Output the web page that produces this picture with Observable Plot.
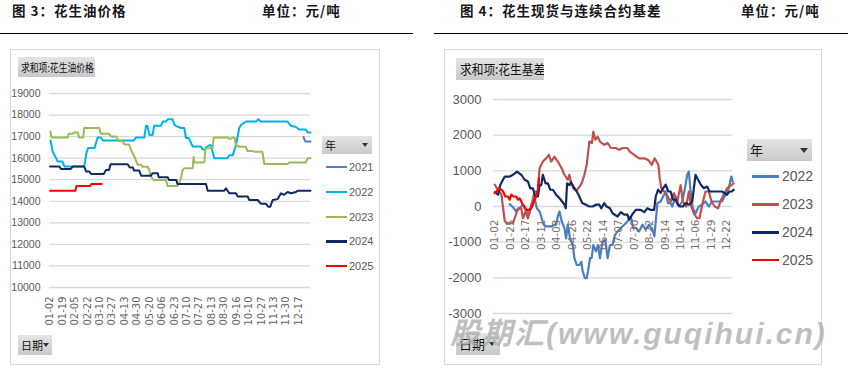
<!DOCTYPE html>
<html><head><meta charset="utf-8">
<script src="https://cdn.jsdelivr.net/npm/d3@7"></script>
<script src="https://cdn.jsdelivr.net/npm/@observablehq/plot@0.6"></script>
<style>
body{margin:0;background:#fff;}
#root{position:relative;width:849px;height:369px;overflow:hidden;background:#fff;font-family:"Noto Sans CJK SC",sans-serif;}
.abs{position:absolute;}
.title{font-weight:bold;font-size:13.5px;letter-spacing:1px;color:#161622;line-height:16px;white-space:nowrap;}
.rule{height:1.3px;background:#000;}
.panel{border:1px solid #d9d9d9;box-sizing:border-box;}
.btn{background:linear-gradient(#e4e4e4,#c9c9c9);box-sizing:border-box;color:#111;white-space:nowrap;overflow:hidden;}
.btn span{display:inline-block;transform-origin:left center;}
.tri{width:0;height:0;border-left:3.5px solid transparent;border-right:3.5px solid transparent;border-top:4.5px solid #333;}
.leg{font-family:"Liberation Sans Narrow","Arial Narrow",sans-serif;color:#595959;white-space:nowrap;}
svg.plot{position:absolute;left:0;top:0;}
</style></head>
<body><div id="root"></div>
<script>
// ---------- data ----------
const leftYTicks = [10000,11000,12000,13000,14000,15000,16000,17000,18000,19000];
const leftXTickIdx = [0,12,24,36,48,60,72,84,96,108,120,132,144,156,168,180,192,204,216,228,240];
const leftXLabels = ["01-02","01-19","02-05","02-22","03-10","03-27","04-13","04-30","05-20","06-06","06-23","07-10","07-27","08-13","08-30","09-16","10-10","10-27","11-13","11-30","12-17"];
const oilYears = ["2021","2022","2023","2024","2025"];
const oilColors = ["#4f81bd","#00b0f0","#9bbb59","#0f2a63","#ff0000"];

const oil2021 = [[244.8,16980],[246.5,16770],[251.5,16770]];
const oil2022 = [[0.5,16820],[2.6,16310],[5,16080],[7.4,15840],[12,15840],[14,15610],[33,15610],[35,16200],[36.7,16470],[43,16470],[46,16960],[49,16960],[51,16820],[81,16820],[83,16960],[91,16960],[92.7,17500],[94,17500],[96,17080],[99,17080],[100.6,17500],[107,17500],[109,17700],[112,17700],[113.6,17800],[118.4,17800],[120,17550],[121.6,17500],[126.4,17400],[129.6,17400],[131.3,16930],[134,16930],[137.7,16540],[145.7,16540],[147.4,16400],[149,16400],[150.6,16500],[153.8,16600],[155.4,16600],[158.6,16000],[171.5,16000],[173,16140],[176.4,16140],[179.5,16600],[182.7,17400],[184.5,17550],[189.2,17700],[198.8,17700],[201,17800],[203.7,17700],[229.4,17700],[232.6,17500],[237.5,17450],[240.6,17330],[247,17330],[248.7,17190],[251.5,17190]];
const oil2023 = [[0.3,17240],[1.6,16960],[17,16960],[18,17130],[22,17130],[23,17190],[27,17190],[28,16960],[32,16960],[33,17400],[47.6,17400],[49,17130],[57,17130],[59,17000],[64,17000],[66,16800],[70,16800],[71.6,16650],[76.6,16620],[78,16400],[81.4,16080],[84.6,15700],[87.8,15700],[89.5,15600],[94.3,15600],[95.8,15450],[97.5,15150],[100,14990],[112,14990],[113.5,14710],[123,14710],[124.6,14830],[126.4,15080],[128,15450],[129.7,15530],[137.7,15530],[138.7,16050],[139.3,15800],[149,15800],[150,16450],[157,16470],[158,16960],[171.5,16960],[173,16900],[174.7,16900],[176.3,16960],[178,16960],[179.5,16600],[182.7,16530],[189,16530],[190.8,16330],[195.6,16330],[197,16300],[205,16300],[206.9,15730],[229.4,15730],[231,15800],[247,15800],[248.7,16000],[251.5,16000]];
const oil2024 = [[0,15610],[9,15610],[10.6,15500],[20,15500],[22,15610],[33,15610],[35,15380],[38,15380],[39.6,15270],[52,15270],[54,15450],[57,15450],[58.5,15720],[75,15720],[77,15570],[80,15570],[81,15430],[86,15430],[88,15190],[97.5,15190],[99,15300],[104,15300],[105,15110],[113.6,15110],[115,14990],[122,14990],[123,14800],[150.6,14800],[152.2,14490],[168.2,14490],[170,14600],[171.5,14490],[173,14370],[179.5,14370],[181.2,14220],[190.8,14220],[192.4,14060],[200.5,14060],[203.7,13880],[208.5,13880],[210.7,13750],[212.7,13750],[215,14060],[219.8,14100],[223,14370],[226,14300],[229.4,14430],[232.6,14370],[237.5,14430],[239,14490],[251.5,14490]];
const oil2025 = [[0,14490],[24.5,14490],[25.5,14710],[39,14710],[39.8,14800],[50,14800]];

const rightYTicks = [-3000,-2000,-1000,0,1000,2000,3000];
const rightXTickIdx = [0,16,32,48,64,80,96,112,128,144,160,176,192,208,224,240];
const rightXLabels = ["01-02","01-25","02-17","03-11","04-03","04-26","05-22","06-14","07-07","07-30","08-22","09-14","10-14","11-06","11-29","12-22"];
const basisYears = ["2022","2023","2024","2025"];
const basisColors = ["#4a7ebf","#c0504d","#0f2a63","#ff0000"];

const basis2022 = [[15.4,65],[18.9,-20],[22.3,-140],[25.7,-50],[29.1,50],[32.6,-140],[35,-230],[37.7,50],[39.4,140],[41.1,230],[43.5,-50],[46.3,-140],[48,-280],[50.4,-510],[53.1,-560],[58.3,-560],[61.7,-510],[63.4,-510],[65.1,-280],[66.9,-140],[69.2,-420],[72,-610],[73.7,-890],[75.4,-510],[77.8,-890],[80.6,-1080],[82.3,-1450],[84.7,-1640],[87.4,-1640],[89.4,-1550],[90.8,-1820],[93.2,-2010],[95,-2010],[96.3,-1820],[98.4,-1450],[100.1,-1450],[101.8,-1080],[104.6,-1260],[106.6,-1080],[108.7,-1450],[111.4,-980],[114.2,-940],[116.6,-1450],[119,-1080],[121.7,-1080],[124.1,-800],[126.8,-700],[130.3,-600],[133.7,-510],[137.1,-420],[140.6,-280],[143,-600],[145.7,-600],[149.1,-700],[152.6,-510],[156,-650],[159.4,-510],[162.8,-650],[164.9,-840],[166.3,-420],[168,90],[171.4,140],[174.8,330],[176.6,420],[179,95],[181.7,95],[183.4,0],[186.8,280],[190.3,0],[193.7,140],[197.1,600],[198.8,890],[200.5,980],[202.3,420],[204.7,-50],[207.4,-190],[210.8,0],[214.3,50],[217.7,140],[221.1,0],[224.5,140],[231.4,140],[234.8,140],[238.3,330],[241.7,510],[244.4,840],[245.8,700]];
const basis2023 = [[0,610],[3.4,470],[6.9,330],[10.3,-400],[12,-470],[18.9,-470],[20.6,-330],[24,-50],[27.4,-50],[29.1,-330],[31.9,-140],[34.3,-330],[37.7,0],[41.1,420],[44.6,420],[46.3,1075],[49.7,1260],[53.1,1350],[55.9,1450],[58.3,1260],[61.7,1400],[65.1,1260],[68.6,1100],[72,890],[75.4,750],[77.1,890],[78.8,650],[81.3,500],[84.7,450],[87.4,550],[89.8,650],[92.6,890],[95,1170],[97.7,1820],[100.4,1780],[101.8,2100],[103.9,1870],[106.3,1960],[108.7,1820],[113.1,1730],[116.6,1780],[120,1640],[125.1,1640],[128.6,1590],[132,1640],[137.1,1640],[139.5,1540],[144,1450],[149.1,1350],[154.3,1350],[158.7,1300],[162.2,1170],[165.2,1350],[169,1170],[170.4,800],[172.1,510],[176.6,375],[181.7,140],[185.1,375],[188.6,140],[192,600],[194.4,140],[197.8,0],[200.5,420],[203,0],[205.7,-190],[209.1,-330],[211.5,-330],[214.3,50],[217.7,420],[221.1,420],[223.9,140],[227.3,0],[230.7,-50],[233.8,190],[236.5,330],[240,510],[244.4,600],[246.8,650]];
const basis2024 = [[0,400],[3.4,330],[5.8,610],[10.3,840],[15.4,840],[18.9,890],[23,980],[27.4,890],[30.9,750],[34.3,700],[36.7,510],[39.4,510],[41.8,280],[44.6,280],[46.3,600],[48,600],[49.7,890],[52.5,650],[54.9,650],[57.3,470],[60,470],[63.4,330],[66.9,230],[69.6,140],[72,50],[73.4,-50],[74.7,650],[77.1,600],[78.8,680],[81.3,560],[84.7,420],[87.4,280],[90.2,100],[94.3,50],[97.7,0],[101.1,0],[104.6,50],[108,50],[110.1,-50],[113.1,95],[115.5,0],[119,-50],[121.7,-190],[126.8,-280],[130.3,-160],[133.7,-230],[137.1,-230],[138.8,-370],[142.3,-210],[145.7,-95],[150.8,-95],[154.3,-160],[157.7,-50],[161.1,-95],[164.6,-95],[166.3,280],[168.7,470],[171.4,380],[173.8,510],[176.6,610],[179.3,420],[181.7,420],[184.1,190],[186.8,190],[189.2,50],[192,0],[194.4,0],[197.1,95],[200.5,50],[204,140],[207.4,890],[210.1,750],[212.9,610],[216,510],[219.4,560],[221.8,420],[234.8,420],[237.6,370],[240,330],[242.4,420],[245.1,420],[246.8,470]];
const basis2025 = [[0,375],[1.7,420],[4.1,510],[6.9,470],[8.6,420],[11,280],[13.7,280],[15.4,190],[17.1,330],[19.5,280],[22.3,280],[24,190],[25.7,230],[27.4,140],[29.1,50],[30.9,0],[32.6,-95],[36,-95],[37.7,-50],[39.4,50],[41.1,190],[42.9,280],[44.6,470],[45.6,800]];

// ---------- layout ----------
const root = document.getElementById("root");
function el(tag, cls, css, html){const e=document.createElement(tag); if(cls) e.className=cls; Object.assign(e.style, css||{}); if(html!=null) e.innerHTML=html; root.appendChild(e); return e;}

el("div","abs title",{left:"12px",top:"2px"},"图 3：花生油价格");
el("div","abs title",{left:"262px",top:"2px"},"单位：元/吨");
el("div","abs title",{left:"460px",top:"2px"},"图 4：花生现货与连续合约基差");
el("div","abs title",{left:"741px",top:"2px"},"单位：元/吨");
el("div","abs rule",{left:"0px",top:"33px",width:"413px"});
el("div","abs rule",{left:"434px",top:"33px",width:"414px"});
el("div","abs panel",{left:"10px",top:"49px",width:"370px",height:"316px"});
el("div","abs panel",{left:"444px",top:"49px",width:"378px",height:"316px"});

const font = '"Liberation Sans Narrow","Arial Narrow",sans-serif';
const series = (arr, color, w) => Plot.line(arr, {x: d => d[0], y: d => d[1], stroke: color, strokeWidth: w, strokeLinejoin: "round", strokeLinecap: "round"});

const left = Plot.plot({
  width: 849, height: 369,
  marginLeft: 49, marginRight: 539, marginTop: 93, marginBottom: 82,
  x: {domain: [-0.5, 251.5]},
  y: {domain: [10000, 19000]},
  style: {background: "transparent", overflow: "visible"},
  marks: [
    Plot.gridY(leftYTicks, {stroke: "#d9d9d9", strokeOpacity: 1, strokeWidth: 1.3}),
    Plot.axisY(leftYTicks, {tickSize: 0, tickPadding: 9, fontSize: 10.5, fontFamily: font, fill: "#595959", label: null, tickFormat: d => String(d)}),
    Plot.axisX(leftXTickIdx, {tickSize: 0, tickPadding: 9, tickRotate: -90, fontSize: 10, fontFamily: "DejaVu Sans", fill: "#666", label: null, tickFormat: i => leftXLabels[leftXTickIdx.indexOf(i)]}),
    series(oil2021, oilColors[0], 2),
    series(oil2022, oilColors[1], 2),
    series(oil2023, oilColors[2], 2),
    series(oil2024, oilColors[3], 2),
    series(oil2025, oilColors[4], 2)
  ]
});
left.classList.add("plot");
root.appendChild(left);

const rightTicks = rightXTickIdx.map((i, k) => ({i, label: rightXLabels[k]}));
const right = Plot.plot({
  width: 849, height: 369,
  marginLeft: 493, marginRight: 117, marginTop: 99, marginBottom: 56,
  x: {domain: [-1.3, 245.6], axis: null},
  y: {domain: [-3000, 3000]},
  style: {background: "transparent", overflow: "visible"},
  marks: [
    Plot.gridY(rightYTicks, {stroke: "#d9d9d9", strokeOpacity: 1, strokeWidth: 1.3}),
    Plot.axisY(rightYTicks, {tickSize: 0, tickPadding: 12, fontSize: 13, fontFamily: font, fill: "#595959", label: null, tickFormat: d => String(d)}),
    series(basis2022, basisColors[0], 2.2),
    series(basis2023, basisColors[1], 2.2),
    series(basis2024, basisColors[2], 2.2),
    series(basis2025, basisColors[3], 2.2),
    Plot.text(rightTicks, {x: "i", y: 0, text: "label", rotate: -90, textAnchor: "end", dy: 13, fontSize: 10.5, fontFamily: "DejaVu Sans", fill: "#7d7064"})
  ]
});
right.classList.add("plot");
root.appendChild(right);

// buttons
el("div","abs btn",{left:"18px",top:"57px",width:"77px",height:"20px",fontSize:"11px",lineHeight:"20px",paddingLeft:"3px"},'<span style="transform:scaleX(0.8)">求和项:花生油价格</span>');
el("div","abs btn",{left:"456px",top:"58px",width:"88px",height:"22px",fontSize:"13px",lineHeight:"22px",paddingLeft:"4px"},'<span style="transform:scaleX(0.9)">求和项:花生基差</span>');
el("div","abs btn",{left:"322px",top:"136px",width:"50px",height:"18px",fontSize:"11px",lineHeight:"18px",paddingLeft:"3px"},"年");
el("div","abs tri",{left:"362px",top:"143px"});
el("div","abs btn",{left:"747px",top:"139px",width:"65px",height:"22px",fontSize:"13px",lineHeight:"22px",paddingLeft:"3px"},"年");
el("div","abs tri",{left:"800px",top:"148px",borderLeftWidth:"4px",borderRightWidth:"4px",borderTopWidth:"5px"});
el("div","abs btn",{left:"18px",top:"335px",width:"34px",height:"20px",fontSize:"11px",lineHeight:"20px",paddingLeft:"3px"},"日期");
el("div","abs tri",{left:"43px",top:"343px",borderLeftWidth:"3px",borderRightWidth:"3px",borderTopWidth:"4px"});
el("div","abs btn",{left:"456px",top:"333px",width:"44px",height:"22px",fontSize:"13px",lineHeight:"22px",paddingLeft:"3px"},"日期");
el("div","abs tri",{left:"489px",top:"342px"});

// legends
oilYears.forEach((yr, k) => {
  const y = 167.3 + k * 24.7;
  el("div","abs",{left:"326px",top:(y-1.2)+"px",width:"21px",height:"2.4px",background:oilColors[k]});
  el("div","abs leg",{left:"349px",top:(y-7)+"px",fontSize:"11px",lineHeight:"14px"},yr);
});
basisYears.forEach((yr, k) => {
  const y = 176.7 + k * 27.8;
  el("div","abs",{left:"752px",top:(y-1.3)+"px",width:"27px",height:"2.6px",background:basisColors[k]});
  el("div","abs leg",{left:"782px",top:(y-8.5)+"px",fontSize:"14px",lineHeight:"17px"},yr);
});

// watermark
el("div","abs",{left:"450px",top:"314px",fontFamily:'"Liberation Sans","Noto Sans CJK SC",sans-serif',fontWeight:"bold",fontStyle:"italic",fontSize:"30px",letterSpacing:"2px",lineHeight:"40px",color:"rgba(170,170,170,0.75)",whiteSpace:"nowrap"},"股期汇(www.guqihui.cn)");
</script></body></html>
